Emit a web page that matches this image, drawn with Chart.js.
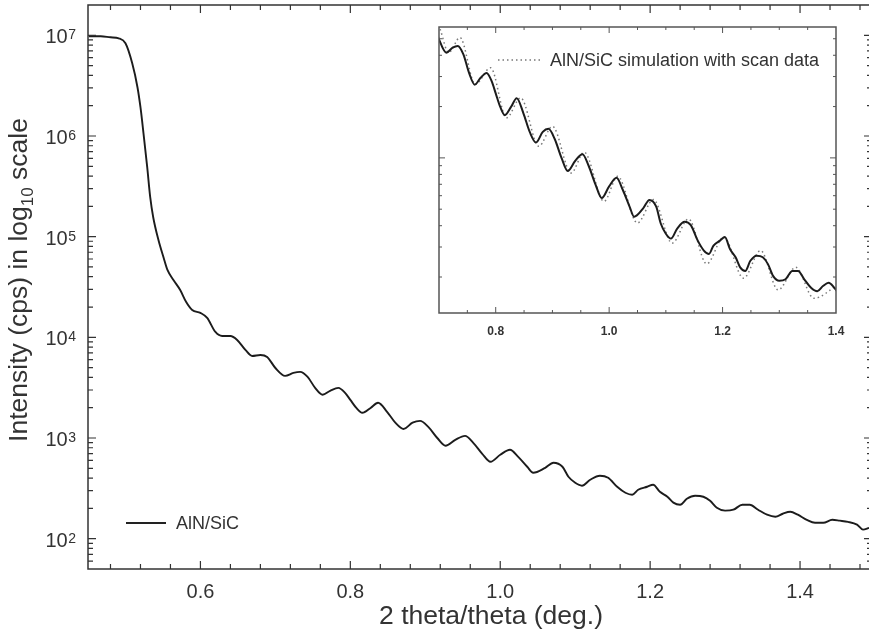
<!DOCTYPE html>
<html><head><meta charset="utf-8">
<script src="https://cdn.jsdelivr.net/npm/chart.js@4/dist/chart.umd.min.js"></script>
<style>
html,body{margin:0;padding:0;overflow:hidden;background:#fff;width:869px;height:636px;}
#wrap{position:relative;width:869px;height:636px;overflow:hidden;background:#fff;}
#main{position:absolute;left:0;top:0;}
#inset{position:absolute;left:420px;top:10px;}
</style></head><body>
<div id="wrap"><canvas id="main" width="873" height="636"></canvas><canvas id="inset" width="440" height="340"></canvas></div>
<script>
// ---- data ----
const twoTheta = [0.451,0.467,0.480,0.491,0.500,0.509,0.516,0.520,0.524,0.529,0.533,0.537,0.544,0.551,0.556,0.564,0.573,0.581,0.589,0.600,
0.609,0.620,0.629,0.640,0.649,0.660,0.669,0.680,0.689,0.700,0.713,0.724,0.733,0.743,0.753,0.763,0.773,0.784,0.793,0.800,
0.808,0.816,0.827,0.837,0.849,0.860,0.871,0.883,0.893,0.904,0.916,0.927,0.940,0.953,0.964,0.976,0.987,1.000,1.013,1.024,
1.036,1.044,1.060,1.071,1.083,1.091,1.100,1.109,1.120,1.133,1.144,1.156,1.167,1.176,1.184,1.196,1.204,1.213,1.223,1.231,
1.240,1.249,1.260,1.271,1.280,1.289,1.300,1.311,1.323,1.333,1.344,1.356,1.367,1.377,1.387,1.397,1.409,1.420,1.431,1.443,
1.453,1.464,1.476,1.484,1.492];
const intensity = [9780000,9780000,9550000,9330000,8330000,5270000,3050000,1930000,1070000,490000,247000,156000,92500,61400,46700,37100,29500,22400,18700,17500,
15600,11300,10300,10300,9420,7500,6530,6680,6390,4960,4140,4430,4540,4050,3150,2690,2940,3150,2810,2390,
1990,1780,1990,2240,1820,1420,1230,1420,1480,1290,1000,838,959,1050,896,697,581,681,764,650,
518,452,506,567,518,412,359,336,385,422,403,328,286,273,306,328,343,292,261,228,
217,249,267,261,238,203,190,194,217,217,194,173,165,177,185,173,154,144,144,154,
151,147,138,123,128];
const simTwoTheta = [0.702,0.717,0.737,0.764,0.791,0.819,0.844,0.876,0.900,0.933,0.956,0.991,1.015,1.050,1.078,1.111,1.140,1.172,1.202,1.237,1.267,1.298,1.329,1.361,1.403];
const simIntensity = [5690,4150,5080,2700,3380,1720,2250,1170,1530,816,1080,556,780,415,569,316,438,239,343,197,286,168,228,150,180];
const xTickValues = [0.6,0.8,1.0,1.2,1.4];
const xTickLabels = ['0.6','0.8','1.0','1.2','1.4'];
const yDecades = [2,3,4,5,6,7];
const insetXTickValues = [0.8,1.0,1.2,1.4];
const insetXTickLabels = ['0.8','1.0','1.2','1.4'];
const seriesName = 'AlN/SiC';
const simName = 'AlN/SiC simulation with scan data';
const xTitle = '2 theta/theta (deg.)';

const FONT = '"Liberation Sans", Arial, Helvetica, sans-serif';
const TXT = '#333';
const scanPts = twoTheta.map((x,i)=>({x, y: intensity[i]}));
const simPts = simTwoTheta.map((x,i)=>({x, y: simIntensity[i]}));

const mainDeco = {
  id: 'mainDeco',
  afterDraw(chart) {
    const {ctx, chartArea: a, scales: {x, y}} = chart;
    ctx.save();
    ctx.strokeStyle = '#333';
    ctx.lineWidth = 1.5;
    ctx.strokeRect(a.left, a.top, a.right - a.left, a.bottom - a.top);
    ctx.lineWidth = 1.2;
    ctx.beginPath();
    for (let i = 0; i <= 30; i++) {
      const v = Math.round((0.44 + i * 0.04) * 100) / 100;
      if (v <= x.min || v >= x.max) continue;
      const px = x.getPixelForValue(v);
      const major = xTickValues.some(t => Math.abs(t - v) < 1e-6);
      const len = major ? 8 : 5;
      ctx.moveTo(px, a.bottom); ctx.lineTo(px, a.bottom - len);
      ctx.moveTo(px, a.top); ctx.lineTo(px, a.top + len);
    }
    for (let d = 1; d <= 7; d++) {
      for (let m = 1; m <= 9; m++) {
        const v = m * Math.pow(10, d);
        if (v <= y.min * 1.001 || v >= y.max * 0.999) continue;
        const py = y.getPixelForValue(v);
        const len = m === 1 ? 8 : 5;
        ctx.moveTo(a.left, py); ctx.lineTo(a.left + len, py);
        ctx.moveTo(a.right, py); ctx.lineTo(a.right - len, py);
      }
    }
    ctx.stroke();
    // x tick labels
    ctx.fillStyle = TXT;
    ctx.font = '20px ' + FONT;
    ctx.textAlign = 'center';
    ctx.textBaseline = 'middle';
    xTickValues.forEach((v, i) => ctx.fillText(xTickLabels[i], x.getPixelForValue(v), 592));
    // x title
    ctx.font = '26.5px ' + FONT;
    ctx.fillText(xTitle, 491, 617);
    // y tick labels 10^n
    ctx.textAlign = 'left';
    ctx.textBaseline = 'alphabetic';
    yDecades.forEach(d => {
      const py = y.getPixelForValue(Math.pow(10, d));
      ctx.font = '14px ' + FONT;
      const w2 = ctx.measureText(String(d)).width;
      ctx.font = '20px ' + FONT;
      const w1 = ctx.measureText('10').width;
      const xEnd = 76;
      ctx.fillText('10', xEnd - w2 - w1 - 0.5, py + 8);
      ctx.font = '14px ' + FONT;
      ctx.fillText(String(d), xEnd - w2, py + 4);
    });
    // y title with subscript
    ctx.save();
    ctx.translate(27, 280);
    ctx.rotate(-Math.PI / 2);
    const p1 = 'Intensity (cps) in log', p2 = '10', p3 = ' scale';
    ctx.font = '26.5px ' + FONT;
    const w1 = ctx.measureText(p1).width, w3 = ctx.measureText(p3).width;
    ctx.font = '17px ' + FONT;
    const w2 = ctx.measureText(p2).width;
    const s = -(w1 + w2 + w3) / 2;
    ctx.font = '26.5px ' + FONT;
    ctx.fillText(p1, s, 0);
    ctx.font = '17px ' + FONT;
    ctx.fillText(p2, s + w1, 6);
    ctx.font = '26.5px ' + FONT;
    ctx.fillText(p3, s + w1 + w2, 0);
    ctx.restore();
    // legend
    ctx.strokeStyle = '#222';
    ctx.lineWidth = 2;
    ctx.beginPath(); ctx.moveTo(126, 523); ctx.lineTo(166, 523); ctx.stroke();
    ctx.fillStyle = TXT;
    ctx.font = '18px ' + FONT;
    ctx.textBaseline = 'middle';
    ctx.fillText(seriesName, 176, 524);
    ctx.restore();
  }
};

new Chart(document.getElementById('main'), {
  type: 'line',
  data: { datasets: [{ label: seriesName, data: scanPts, borderColor: '#1c1c1c', borderWidth: 1.9, pointRadius: 0, cubicInterpolationMode: 'monotone', fill: false }] },
  options: {
    responsive: false, animation: false, devicePixelRatio: 1, events: [],
    layout: { padding: { left: 88, top: 5, right: 1, bottom: 67 } },
    plugins: { legend: { display: false }, tooltip: { enabled: false } },
    scales: {
      x: { type: 'linear', display: false, min: 0.45, max: 1.496 },
      y: { type: 'logarithmic', display: false, min: 50, max: 2e7 }
    }
  },
  plugins: [mainDeco]
});

const OX = 420, OY = 10;
const insetDeco = {
  id: 'insetDeco',
  beforeDatasetsDraw(chart) {
    const {ctx, chartArea: a} = chart;
    ctx.save(); ctx.fillStyle = '#fff';
    ctx.fillRect(a.left, a.top, a.right - a.left, a.bottom - a.top);
    ctx.restore();
  },
  afterDraw(chart) {
    const {ctx, chartArea: a, scales: {x, y}} = chart;
    ctx.save();
    ctx.strokeStyle = '#555';
    ctx.lineWidth = 1.5;
    ctx.strokeRect(a.left, a.top, a.right - a.left, a.bottom - a.top);
    ctx.lineWidth = 1;
    ctx.beginPath();
    for (let i = 1; i < 14; i++) {
      const v = Math.round((0.7 + i * 0.05) * 100) / 100;
      const px = x.getPixelForValue(v);
      const major = insetXTickValues.some(t => Math.abs(t - v) < 1e-6);
      const len = major ? 6 : 3;
      ctx.moveTo(px, a.bottom); ctx.lineTo(px, a.bottom - len);
      ctx.moveTo(px, a.top); ctx.lineTo(px, a.top + len);
    }
    for (let d = 2; d <= 3; d++) {
      for (let m = 1; m <= 9; m++) {
        const v = m * Math.pow(10, d);
        if (v <= y.min || v >= y.max) continue;
        const py = y.getPixelForValue(v);
        const len = m === 1 ? 6 : 3;
        ctx.moveTo(a.left, py); ctx.lineTo(a.left + len, py);
        ctx.moveTo(a.right, py); ctx.lineTo(a.right - len, py);
      }
    }
    ctx.stroke();
    ctx.fillStyle = TXT;
    ctx.font = 'bold 12px ' + FONT;
    ctx.textAlign = 'center';
    ctx.textBaseline = 'middle';
    insetXTickValues.forEach((v, i) => ctx.fillText(insetXTickLabels[i], x.getPixelForValue(v), 332 - OY));
    // legend
    ctx.strokeStyle = '#777';
    ctx.lineWidth = 1.5;
    ctx.setLineDash([1.5, 3]);
    ctx.beginPath(); ctx.moveTo(498 - OX, 60 - OY); ctx.lineTo(540 - OX, 60 - OY); ctx.stroke();
    ctx.setLineDash([]);
    ctx.font = '18px ' + FONT;
    ctx.textAlign = 'left';
    ctx.fillText(simName, 550 - OX, 61 - OY);
    ctx.restore();
  }
};

new Chart(document.getElementById('inset'), {
  type: 'line',
  data: { datasets: [
    { label: seriesName, data: scanPts, borderColor: '#1c1c1c', borderWidth: 2, pointRadius: 0, cubicInterpolationMode: 'monotone', fill: false, clip: 0 },
    { label: simName, data: simPts, borderColor: '#7a7a7a', borderWidth: 1.5, borderDash: [1.5, 3], pointRadius: 0, cubicInterpolationMode: 'monotone', fill: false, clip: 0 }
  ] },
  options: {
    responsive: false, animation: false, devicePixelRatio: 1, events: [],
    layout: { padding: { left: 439 - OX, top: 27 - OY, right: 440 - (836 - OX), bottom: 340 - (313 - OY) } },
    plugins: { legend: { display: false }, tooltip: { enabled: false } },
    scales: {
      x: { type: 'linear', display: false, min: 0.7, max: 1.4 },
      y: { type: 'logarithmic', display: false, min: 123, max: 5860 }
    }
  },
  plugins: [insetDeco]
});
</script>
</body></html>
